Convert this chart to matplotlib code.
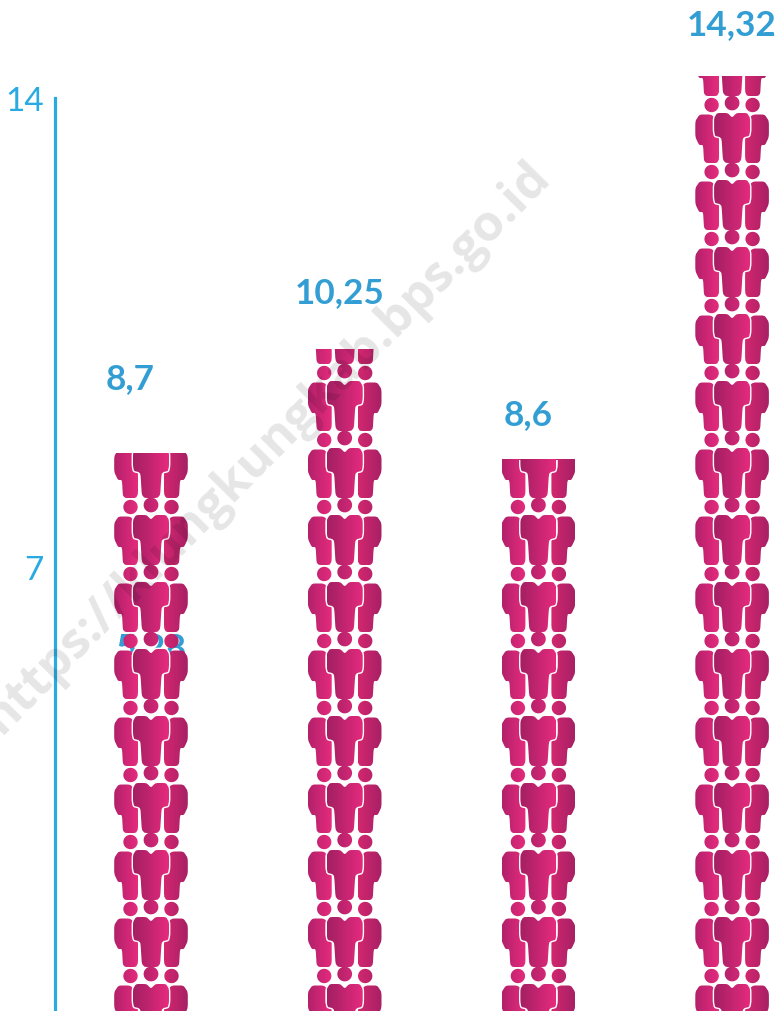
import numpy as np
import matplotlib
matplotlib.use("Agg")
import matplotlib.pyplot as plt
from matplotlib.colors import LinearSegmentedColormap
from matplotlib.path import Path

# --- Data ---
positions = [0, 1, 2, 3]
values = [8.7, 10.25, 8.6, 14.32]
value_labels = ["8,7", "10,25", "8,6", "14,32"]
# pixel nudges of the labels, they are not centred on the columns in the original
label_dx = [-21, -5, -10, -1]
label_dy = [75, 57, 46, 53]
hidden_label = "5,28"
hidden_value = 5.28
y_ticks = [7, 14]
y_tick_labels = ["7", "14"]

# --- Style ---
W, H = 777, 1012
PX_X = 193.7  # pixels per category
PX_Y = 67.0  # pixels per unit, one unit is one group of people
BLUE = "#29ABE2"
LABEL_BLUE = "#329ED3"

plt.rcParams['font.family'] = ['Lato', 'DejaVu Sans']


def smooth(pts, n=2):
    # corner cutting, rounds off the hand traced outlines
    pts = np.array(pts, float)
    for _ in range(n):
        nxt = np.roll(pts, -1, axis=0)
        pts = np.column_stack([0.86 * pts + 0.14 * nxt, 0.14 * pts + 0.86 * nxt]).reshape(-1, 2)
    return pts


def head(cx, cy, r):
    t = np.linspace(0, 2 * np.pi, 30)
    return np.column_stack([cx + r * np.cos(t), cy + r * np.sin(t)])


# outlines in pixels, relative to column centre and bottom of the tile
CENTER_BODY = [(-9, 2), (9, 2), (10.5, 26), (12.5, 28), (17, 29), (18, 34), (18, 47), (15, 52), (4.5, 52),
               (0, 47.5), (-4.5, 52), (-15, 52), (-18, 47), (-18, 34), (-17, 29), (-12.5, 28), (-10.5, 26)]
LEFT_BODY = [(-28, 2), (-13, 2), (-13, 30), (-16, 46), (-21, 50.5), (-32.5, 50.5), (-36.8, 44), (-36.8, 28),
             (-33, 20), (-29, 20)]
RIGHT_BODY = [(x * -1, y) for x, y in LEFT_BODY]
CENTER_HEAD = (0, 62, 7.4)
LEFT_HEAD = (-20.5, 60, 7.2)
RIGHT_HEAD = (20.5, 60, 7.2)


def tile_path(pos, body, hd, top):
    # one person per tile, stacked up to the value of the column
    parts = []
    for k in range(int(np.ceil(top))):
        for pts in (smooth(body), head(*hd)):
            xy = pts / [PX_X, PX_Y] + [pos, k]
            parts.append(Path(np.vstack([xy, xy[0]]), closed=True))
    return Path.make_compound_path(*parts)


def draw_person(ax, pos, top, body, hd, c0, c1, zorder):
    cmap = LinearSegmentedColormap.from_list("g", [c0, c1])
    x0 = pos + min(p[0] for p in body) / PX_X
    x1 = pos + max(p[0] for p in body) / PX_X
    im = ax.imshow(np.linspace(0, 1, 64).reshape(1, -1), cmap=cmap, aspect='auto', interpolation='bilinear',
                   extent=(x0, x1, 0, top), zorder=zorder)
    im.set_clip_path(tile_path(pos, body, hd, top), ax.transData)


fig = plt.figure(figsize=(W / 100, H / 100), dpi=100)
ax = fig.add_axes([0, 0, 1, 1])

for i, (pos, val) in enumerate(zip(positions, values)):
    draw_person(ax, pos, val, LEFT_BODY, LEFT_HEAD, "#B2216A", "#E62B7E", 3)
    draw_person(ax, pos, val, RIGHT_BODY, RIGHT_HEAD, "#D2276F", "#A82065", 3)
    # white halo that splits the middle person from the two behind
    for k in range(int(np.ceil(val))):
        xy = smooth(CENTER_BODY) / [PX_X, PX_Y] + [pos, k]
        clip = plt.Rectangle((pos - 0.3, 0), 0.6, val, transform=ax.transData)
        patch = ax.fill(xy[:, 0], xy[:, 1], fc='white', ec='white', lw=2.0, zorder=4)[0]
        patch.set_clip_path(clip)
    draw_person(ax, pos, val, CENTER_BODY, CENTER_HEAD, "#A31F63", "#E62B7E", 5)
    ax.annotate(value_labels[i], (pos, val), xytext=(label_dx[i], label_dy[i]), textcoords='offset pixels',
                ha='center', va='center', fontsize=25.3, fontweight='bold', color=LABEL_BLUE, zorder=6)

# this label sits behind the first column in the original
ax.annotate(hidden_label, (positions[0], hidden_value), xytext=(0, 34), textcoords='offset pixels',
            ha='center', va='center', fontsize=26, fontweight='bold', color=LABEL_BLUE, zorder=2)

# axis range chosen so that the picture crops the bottom of the columns
ax.set_xlim(-151 / PX_X, (W - 151) / PX_X)
ax.set_ylim(25 / PX_Y, (H + 25) / PX_Y)
ax.patch.set_alpha(0)

for side in ['top', 'right', 'bottom']:
    ax.spines[side].set_visible(False)
ax.spines['left'].set_position(('data', (55 - 151) / PX_X))
ax.spines['left'].set_bounds(0, 14)
ax.spines['left'].set_color(BLUE)
ax.spines['left'].set_linewidth(2.3)
ax.set_xticks([])
ax.set_yticks(y_ticks)
ax.set_yticklabels(y_tick_labels, fontsize=24, color=BLUE)
ax.tick_params(axis='y', length=0, pad=8)

fig.text(267 / W, 1 - 448 / H, "https://klungkungkab.bps.go.id", rotation=45.3, rotation_mode='anchor',
         ha='center', va='center', fontsize=36, fontweight='bold', family=['Open Sans', 'DejaVu Sans'],
         color='black', alpha=0.1, zorder=10)

fig.savefig("out.png", dpi=100)
